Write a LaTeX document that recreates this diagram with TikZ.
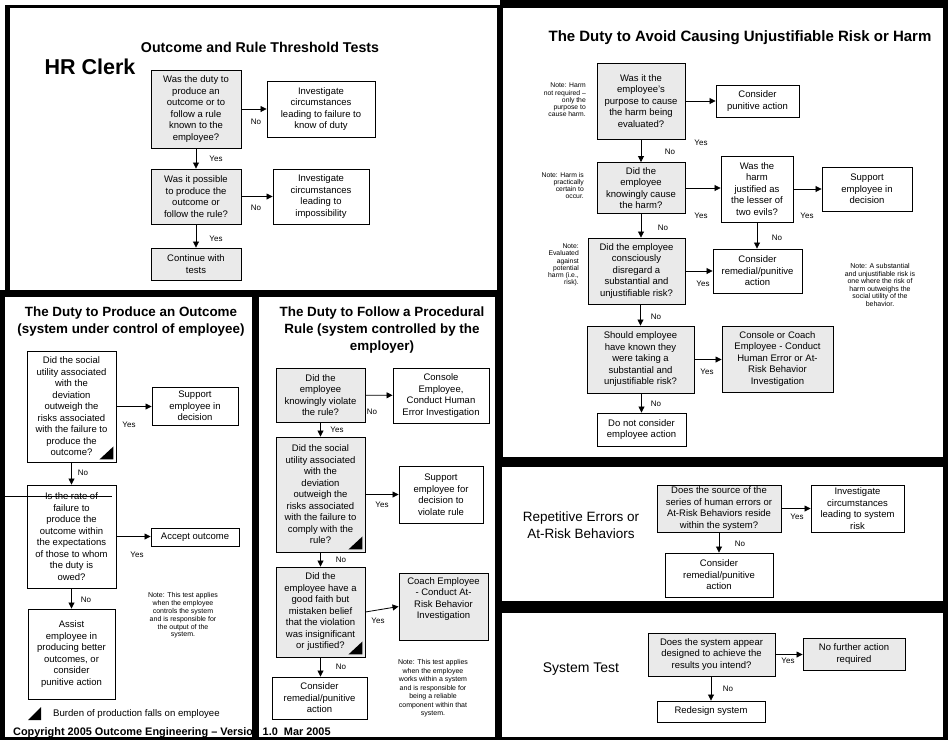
\documentclass[tikz,border=0pt]{standalone}
\usepackage{fontspec}
\setmainfont{Liberation Sans}
\usetikzlibrary{arrows.meta}
\definecolor{qfill}{RGB}{234,234,234}
\begin{document}
\begin{tikzpicture}[x=1pt,y=-1pt,
  box/.style={draw=black, line width=0.9pt, align=center, inner sep=1pt,
              font=\fontsize{9.5}{11.5}\selectfont},
  qbox/.style={box, fill=qfill},
  abox/.style={box, fill=white},
  arr/.style={line width=0.8pt, -{Triangle[length=6pt,width=6pt]}},
  lbl/.style={font=\fontsize{8}{9}\selectfont, inner sep=0},
  smallnote/.style={font=\fontsize{6.8}{7.2}\selectfont, inner sep=0},
  notetext/.style={font=\fontsize{7}{7.8}\selectfont, inner sep=0, align=center},
  heading/.style={font=\bfseries\fontsize{13.4}{16.7}\selectfont, align=center, inner sep=0},
  sidelabel/.style={font=\fontsize{13.5}{16.7}\selectfont, align=center, inner sep=0},
  burden/.style={fill=black}
]
\useasboundingbox (0,0) rectangle (948,740);

% black backing and white panels
\fill[black] (0,0) rectangle (948,740);
\fill[white] (0,0) rectangle (500,5);
\fill[white] (0,0) rectangle (5,290);
\fill[white] (10,8) rectangle (497,290);
\fill[white] (503,8) rectangle (943,457);
\fill[white] (5,297) rectangle (252,737);
\fill[white] (259,297) rectangle (495,737);
\fill[white] (502,467) rectangle (943,601);
\fill[white] (502,613) rectangle (943,737);

% ---------- Outcome and Rule Threshold Tests ----------
\node[font=\bfseries\fontsize{14.2}{17}\selectfont, inner sep=0] (tltitle) at (260,47) {Outcome and Rule Threshold Tests};
\node[font=\bfseries\fontsize{21.5}{25}\selectfont, inner sep=0] (hr) at (90,67) {HR Clerk};
\node[qbox, minimum width=90pt, minimum height=78pt] (t1) at (196,109) {Was the duty to\\produce an\\outcome or to\\follow a rule\\known to the\\employee?};
\node[abox, minimum width=108pt, minimum height=56pt] (t1a) at (321,109) {Investigate\\circumstances\\leading to failure to\\know of duty};
\node[qbox, minimum width=90pt, minimum height=55pt] (t2) at (196,196.5) {Was it possible\\to produce the\\outcome or\\follow the rule?};
\node[abox, minimum width=96pt, minimum height=55pt] (t2a) at (321,196.5) {Investigate\\circumstances\\leading to\\impossibility};
\node[qbox, minimum width=90pt, minimum height=32pt] (t3) at (196,264) {Continue with\\tests};
\draw[arr] (t1) -- (t1a);
\draw[arr] (t1) -- (t2);
\draw[arr] (t2) -- (t2a);
\draw[arr] (t2) -- (t3);
\node[lbl] (tl1) at (256,122) {No};
\node[lbl] (tl2) at (216,159) {Yes};
\node[lbl] (tl3) at (256,208) {No};
\node[lbl] (tl4) at (216,239) {Yes};

% ---------- The Duty to Avoid Causing Unjustifiable Risk or Harm ----------
\node[font=\bfseries\fontsize{15}{18}\selectfont, inner sep=0] (trtitle) at (740,38) {The Duty to Avoid Causing Unjustifiable Risk or Harm};
\node[qbox, minimum width=88pt, minimum height=76pt] (r1) at (641,101) {Was it the\\employee's\\purpose to cause\\the harm being\\evaluated?};
\node[abox, minimum width=83pt, minimum height=32pt] (r1a) at (757.5,101) {Consider\\punitive action};
\node[qbox, minimum width=88pt, minimum height=51pt] (r2) at (641,188) {Did the\\employee\\knowingly cause\\the harm?};
\node[abox, minimum width=72pt, minimum height=66pt] (rj) at (757,189) {Was the\\harm\\justified as\\the lesser of\\two evils?};
\node[abox, minimum width=90pt, minimum height=44pt] (rs) at (867,189) {Support\\employee in\\decision};
\node[qbox, minimum width=97pt, minimum height=66pt] (r3) at (636.5,271) {Did the employee\\consciously\\disregard a\\substantial and\\unjustifiable risk?};
\node[abox, minimum width=89pt, minimum height=44pt] (rr) at (757.5,271) {Consider\\remedial/punitive\\action};
\node[qbox, minimum width=107pt, minimum height=67pt] (r4) at (640.5,359.5) {Should employee\\have known they\\were taking a\\substantial and\\unjustifiable risk?};
\node[qbox, minimum width=111pt, minimum height=66pt] (rc) at (777.5,359) {Console or Coach\\Employee - Conduct\\Human Error or At-\\Risk Behavior\\Investigation};
\node[abox, minimum width=89pt, minimum height=33pt] (rd) at (641.5,429.5) {Do not consider\\employee action};
\draw[arr] (r1.east) -- (r1.east -| r1a.west);
\draw[arr] (r1) -- (r2);
\draw[arr] (r2.east) -- (r2.east -| rj.west);
\draw[arr] (rj.east) -- (rj.east -| rs.west);
\draw[arr] (r2.south) -- (r2.south |- r3.north);
\draw[arr] (rj.south) -- (rj.south |- rr.north);
\draw[arr] (r3.east) -- (r3.east -| rr.west);
\draw[arr] (r3.south -| r4.north) -- (r4.north);
\draw[arr] (r4.east) -- (r4.east -| rc.west);
\draw[arr] (r4.south -| rd.north) -- (rd.north);
\node[lbl] (trl1) at (701,143) {Yes};
\node[lbl] (trl2) at (670,152) {No};
\node[lbl] (trl3) at (701,216) {Yes};
\node[lbl] (trl4) at (807,216) {Yes};
\node[lbl] (trl5) at (663,228) {No};
\node[lbl] (trl6) at (777,238) {No};
\node[lbl] (trl7) at (703,284) {Yes};
\node[lbl] (trl8) at (656,317) {No};
\node[lbl] (trl9) at (707,372) {Yes};
\node[lbl] (trl10) at (656,404) {No};
\node[smallnote, align=right, anchor=east] (rn1) at (586,100) {Note: Harm\\not required --\\only the\\purpose to\\cause harm.};
\node[smallnote, align=right, anchor=east] (rn2) at (584,185.5) {Note: Harm is\\practically\\certain to\\occur.};
\node[smallnote, align=right, anchor=east] (rn3) at (579,265) {Note:\\Evaluated\\against\\potential\\harm (i.e.,\\risk).};
\node[notetext, font=\fontsize{7}{7.6}\selectfont] (rn4) at (880,285) {Note: A substantial\\and unjustifiable risk is\\one where the risk of\\harm outweighs the\\social utility of the\\behavior.};

% ---------- The Duty to Produce an Outcome ----------
\node[heading] (bltitle) at (131,321.5) {The Duty to Produce an Outcome\\(system under control of employee)};
\node[abox, minimum width=89pt, minimum height=111pt] (b1) at (71.5,406.5) {Did the social\\utility associated\\with the\\deviation\\outweigh the\\risks associated\\with the failure to\\produce the\\outcome?};
\node[abox, minimum width=86pt, minimum height=38pt] (bs) at (195,406) {Support\\employee in\\decision};
\node[abox, minimum width=89pt, minimum height=103pt] (b2) at (71.5,536.5) {Is the rate of\\failure to\\produce the\\outcome within\\the expectations\\of those to whom\\the duty is\\owed?};
\node[abox, minimum width=88pt, minimum height=18pt] (ba) at (195,537) {Accept outcome};
\node[abox, minimum width=87pt, minimum height=90pt] (bc) at (71.5,654) {Assist\\employee in\\producing better\\outcomes, or\\consider\\punitive action};
\fill[burden] ([shift={(-3,-3)}]b1.south east) -- ++(-14,0) -- ++(14,-13) -- cycle;
\draw[arr] (b1.east) -- (b1.east -| bs.west);
\draw[arr] (b1) -- (b2);
\draw[arr] (b2.east) -- (b2.east -| ba.west);
\draw[arr] (b2) -- (bc);
\coordinate (stray) at (5,496);
\draw[line width=0.7pt] (stray) -- ([xshift=-4]stray -| b2.east);
\node[lbl] (bl1) at (129,425) {Yes};
\node[lbl] (bl2) at (83,473) {No};
\node[lbl] (bl3) at (137,555) {Yes};
\node[lbl] (bl4) at (86,600) {No};
\node[notetext] (bn) at (183,615.5) {Note: This test applies\\when the employee\\controls the system\\and is responsible for\\the output of the\\system.};
\fill[burden] (28,720) -- (41,720) -- (41,707) -- cycle;
\node[font=\fontsize{9.6}{11}\selectfont, anchor=west, inner sep=0] (legend) at (53,714) {Burden of production falls on employee};

% ---------- The Duty to Follow a Procedural Rule ----------
\node[heading] (bmtitle) at (382,330) {The Duty to Follow a Procedural\\Rule (system controlled by the\\employer)};
\node[qbox, minimum width=89pt, minimum height=54pt] (m1) at (320.5,395) {Did the\\employee\\knowingly violate\\the rule?};
\node[abox, minimum width=96pt, minimum height=55pt] (m1a) at (441,395.5) {Console\\Employee,\\Conduct Human\\Error Investigation};
\node[qbox, minimum width=89pt, minimum height=115pt] (m2) at (320.5,494.5) {Did the social\\utility associated\\with the\\deviation\\outweigh the\\risks associated\\with the failure to\\comply with the\\rule?};
\node[abox, minimum width=84pt, minimum height=57pt] (m2a) at (441,494.5) {Support\\employee for\\decision to\\violate rule};
\node[qbox, minimum width=89pt, minimum height=90pt] (m3) at (320.5,612) {Did the\\employee have a\\good faith but\\mistaken belief\\that the violation\\was insignificant\\or justified?};
\node[qbox, minimum width=89pt, minimum height=67pt] (m3a) at (443.5,606.5) {Coach Employee\\- Conduct At-\\Risk Behavior\\Investigation\\[5pt]};
\node[abox, minimum width=95pt, minimum height=42pt] (md) at (319.5,698) {Consider\\remedial/punitive\\action};
\fill[burden] ([shift={(-3,-3)}]m2.south east) -- ++(-14,0) -- ++(14,-13) -- cycle;
\fill[burden] ([shift={(-3,-3)}]m3.south east) -- ++(-14,0) -- ++(14,-13) -- cycle;
\draw[arr] (m1) -- (m1a);
\draw[arr] (m1) -- (m2);
\draw[arr] (m2.east) -- (m2.east -| m2a.west);
\draw[arr] (m2) -- (m3);
\draw[arr] (m3.east) -- (m3a.west);
\draw[arr] (m3.south) -- (m3.south |- md.north);
\node[lbl] (ml1) at (372,412) {No};
\node[lbl] (ml2) at (337,430) {Yes};
\node[lbl] (ml3) at (382,505) {Yes};
\node[lbl] (ml4) at (341,560) {No};
\node[lbl] (ml5) at (378,621) {Yes};
\node[lbl] (ml6) at (341,667) {No};
\node[notetext, font=\fontsize{7}{8.5}\selectfont] (mn) at (433,688.5) {Note: This test applies\\when the employee\\works within a system\\and is responsible for\\being a reliable\\component within that\\system.};

% copyright line, partly hidden by the panel divider
\node[font=\bfseries\fontsize{10.9}{12}\selectfont, anchor=base west, inner sep=0] (copy) at (13,735) {Copyright 2005 Outcome Engineering -- Version 1.0~~Mar 2005};
\fill[black] (252,291) rectangle (259,740);
\fill[black] (0,737) rectangle (500,740);

% ---------- Repetitive Errors or At-Risk Behaviors ----------
\node[sidelabel] (relabel) at (581,525) {Repetitive Errors or\\At-Risk Behaviors};
\node[qbox, minimum width=124pt, minimum height=47pt] (e1) at (719,508.5) {Does the source of the\\series of human errors or\\At-Risk Behaviors reside\\within the system?};
\node[abox, minimum width=93pt, minimum height=47pt] (e1a) at (857.5,508.5) {Investigate\\circumstances\\leading to system\\risk};
\node[abox, minimum width=108pt, minimum height=44pt] (e2) at (719,575) {Consider\\remedial/punitive\\action};
\draw[arr] (e1) -- (e1a);
\draw[arr] (e1) -- (e2);
\node[lbl] (el1) at (797,517) {Yes};
\node[lbl] (el2) at (740,544) {No};

% ---------- System Test ----------
\node[sidelabel, font=\fontsize{14}{17}\selectfont] (stlabel) at (581,669) {System Test};
\node[qbox, minimum width=127pt, minimum height=43pt] (s1) at (711.5,654.5) {Does the system appear\\designed to achieve the\\results you intend?};
\node[qbox, minimum width=102pt, minimum height=32pt] (s1a) at (854,654) {No further action\\required};
\node[abox, minimum width=108pt, minimum height=21pt] (s2) at (711,711.5) {Redesign system};
\draw[arr] (s1.east) -- (s1.east -| s1a.west);
\draw[arr] (s1.south -| s2.north) -- (s2.north);
\node[lbl] (sl1) at (788,661) {Yes};
\node[lbl] (sl2) at (728,689) {No};
\end{tikzpicture}
\end{document}
